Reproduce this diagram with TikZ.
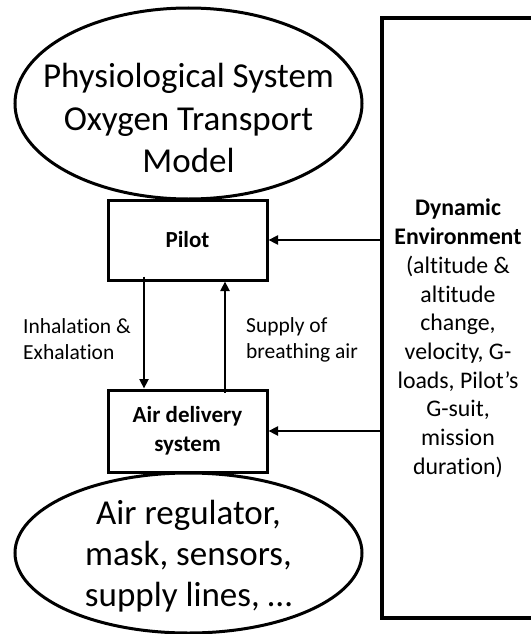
\documentclass[tikz,border=0pt]{standalone}
\usepackage{fontspec}
\setmainfont{Carlito}[Ligatures=NoCommon]
\usetikzlibrary{shapes.geometric,arrows.meta}
\begin{document}
\begin{tikzpicture}[x=1pt,y=-1pt,
  oval/.style={draw,ellipse,line width=3pt,inner sep=0pt},
  ovaltext/.style={inner sep=0pt,align=center,anchor=north,font=\fontsize{35}{42.5}\selectfont},
  block/.style={draw,rectangle,line width=3pt,inner sep=0pt,align=center,
    minimum width=159pt,font=\bfseries\fontsize{23}{29}\selectfont},
  flow/.style={line width=2.8pt,-{Triangle[length=9.5pt,width=9pt]}},
  note/.style={inner sep=0pt,align=left,anchor=north west,font=\fontsize{21.5}{26}\selectfont}]
\useasboundingbox (0,0) rectangle (530,634);

% model ovals with their captions
\node[oval,minimum width=347pt,minimum height=191pt] (phys) at (188.5,103.5) {};
\node[ovaltext] (physlabel) at (188.5,63)
  {Physiological System\\Oxygen Transport\\Model};
\node[oval,minimum width=347pt,minimum height=160pt] (parts) at (188.5,553) {};
\node[ovaltext,font=\fontsize{35}{41}\selectfont] (partslabel) at (188.5,500)
  {Air regulator,\\mask, sensors,\\supply lines, \dots};

% pilot and air delivery blocks
\node[block,minimum height=80pt] (pilot) at (187.5,240) {Pilot};
\node[block,minimum height=82pt] (air) at (187.5,431) {Air delivery\\system};

% environment panel, open past the right edge
\node[draw,rectangle,line width=3.2pt,inner sep=0pt,
  minimum width=158pt,minimum height=600pt] (env) at (461,318) {};
\node[inner sep=0pt,align=center,anchor=north,font=\fontsize{23.8}{28.7}\selectfont]
  (envlabel) at (458,199)
  {\textbf{Dynamic}\\\textbf{Environment}\\(altitude \&\\altitude\\change,\\velocity, G-\\loads, Pilot’s\\G-suit,\\mission\\duration)};

% connectors
\draw[flow] (pilot.east -| env.west) -- (pilot.east);
\draw[flow] (air.east -| env.west) -- (air.east);
\draw[flow] ([xshift=-43.5pt,yshift=5pt]pilot.south) -- ([xshift=-43.5pt]air.north);
\draw[flow] ([xshift=37.5pt,yshift=-4pt]air.north) -- ([xshift=37.5pt]pilot.south);

% flow labels
\node[note] (inhale) at (23,318) {Inhalation \&\\Exhalation};
\node[note] (supply) at (246,317) {Supply of\\breathing air};
\end{tikzpicture}
\end{document}
